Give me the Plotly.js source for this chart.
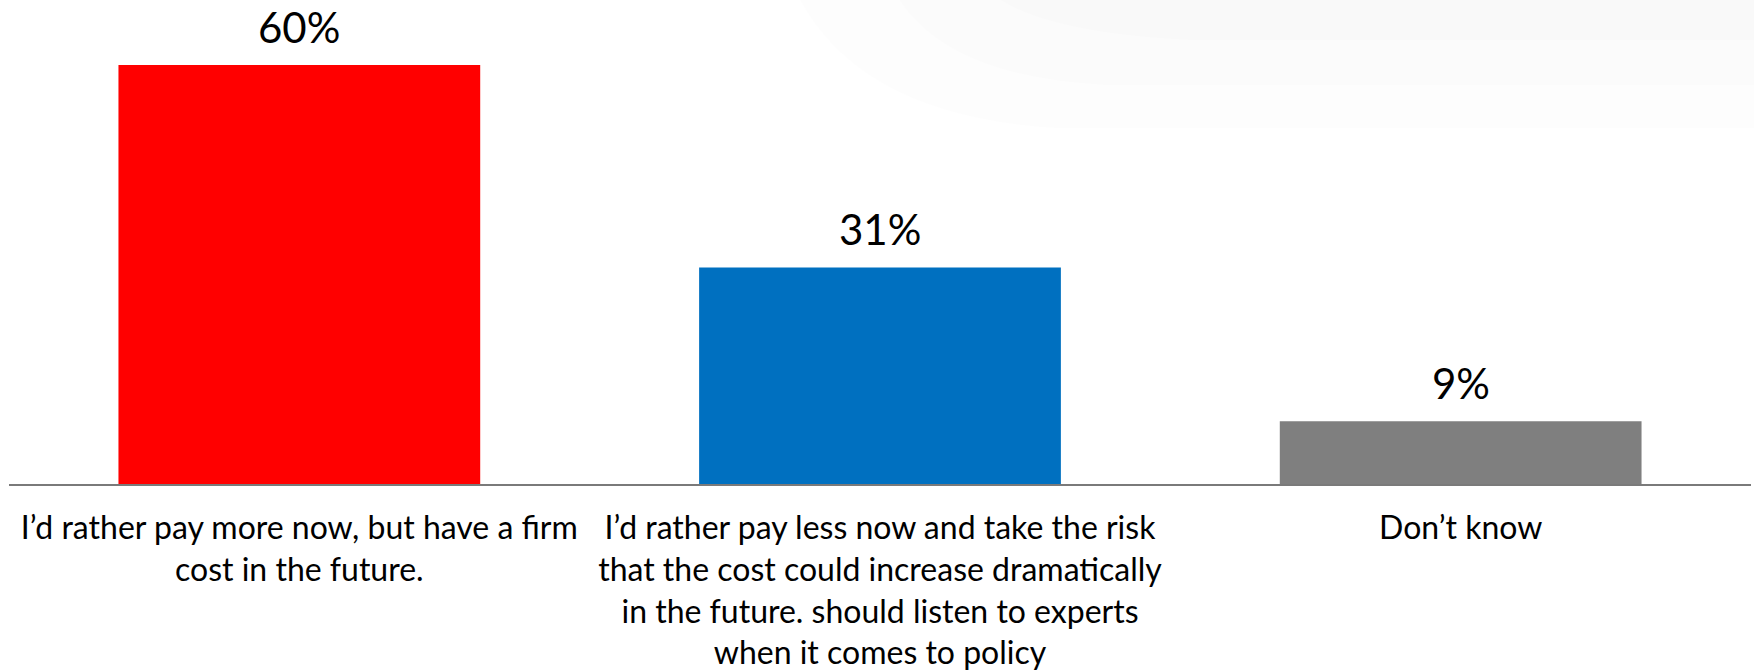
<!DOCTYPE html>
<html>
<head>
<meta charset="utf-8">
<script src="https://cdn.plot.ly/plotly-3.0.1.min.js"></script>
<style>html,body{margin:0;padding:0;background:#fff;}#chart{width:1754px;height:672px;}</style>
</head>
<body>
<div id="chart"></div>
<script>
const categories = [
  "I’d rather pay more now, but have a firm<br>cost in the future.",
  "I’d rather pay less now and take the risk<br>that the cost could increase dramatically<br>in the future. should listen to experts<br>when it comes to policy",
  "Don’t know"
];
const values = [60, 31, 9];
const valueLabels = ["60%", "31%", "9%"];
const barColors = ["#FF0000", "#0070C0", "#7F7F7F"];
const xIndex = [0, 1, 2];

const FONT = "Lato, 'Open Sans', sans-serif";

const trace = {
  type: "bar",
  x: xIndex,
  y: values,
  marker: {color: barColors, line: {width: 0}},
  hoverinfo: "skip"
};

const annotations = xIndex.map((x, i) => ({
  x: x, y: values[i], xref: "x", yref: "y",
  text: valueLabels[i], showarrow: false,
  yanchor: "middle", yshift: 38,
  font: {family: FONT, size: 42, color: "#000"}
}));

const layout = {
  width: 1754, height: 672,
  margin: {l: 9, r: 3, t: 0, b: 188},
  paper_bgcolor: "rgba(0,0,0,0)",
  plot_bgcolor: "rgba(0,0,0,0)",
  bargap: 0.377,
  showlegend: false,
  xaxis: {
    range: [-0.5, 2.5],
    tickmode: "array", tickvals: xIndex, ticktext: categories,
    showline: true, linecolor: "#7a7a7a", linewidth: 2,
    ticks: "", showgrid: false, zeroline: false,
    ticklabelstandoff: 15,
    tickfont: {family: FONT, size: 32, color: "#000"},
    fixedrange: true
  },
  yaxis: {
    range: [0, 69.3], visible: false, showgrid: false, zeroline: false, fixedrange: true
  },
  annotations: annotations,
  shapes: [
    {type: "path", xref: "paper", yref: "paper", layer: "below",
     path: "M 0.454 1.0 Q 0.49 0.76, 0.6 0.7355 L 1.005 0.7355 L 1.005 1.0 Z",
     fillcolor: "rgba(0,0,0,0.008)", line: {width: 0}},
    {type: "path", xref: "paper", yref: "paper", layer: "below",
     path: "M 0.511 1.0 Q 0.54 0.84, 0.63 0.824 L 1.005 0.824 L 1.005 1.0 Z",
     fillcolor: "rgba(0,0,0,0.008)", line: {width: 0}},
    {type: "path", xref: "paper", yref: "paper", layer: "below",
     path: "M 0.569 1.0 Q 0.6 0.93, 0.68 0.917 L 1.005 0.917 L 1.005 1.0 Z",
     fillcolor: "rgba(0,0,0,0.008)", line: {width: 0}}
  ]
};

Plotly.newPlot("chart", [trace], layout, {displayModeBar: false, staticPlot: true});
</script>
</body>
</html>
